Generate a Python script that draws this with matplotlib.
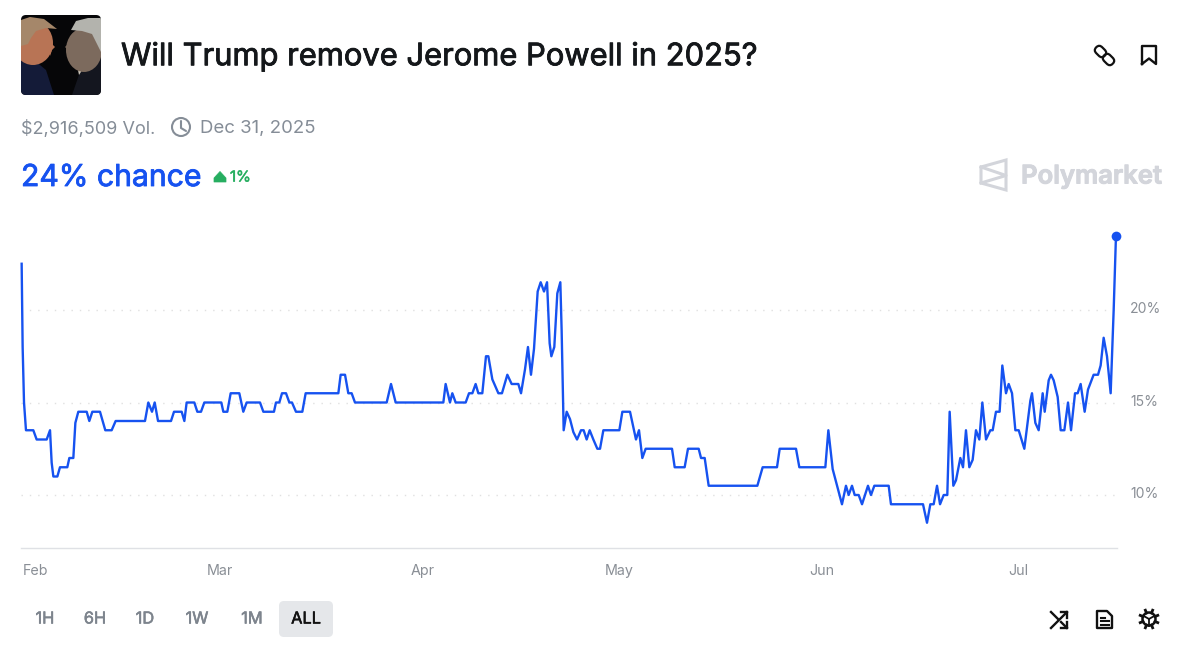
import matplotlib
matplotlib.use("Agg")
import matplotlib.pyplot as plt
import matplotlib.patheffects as pe
from matplotlib.patches import FancyBboxPatch, Polygon, Circle, Ellipse
from matplotlib.transforms import ScaledTranslation, Affine2D
import numpy as np

plt.rcParams['font.family'] = ['Inter', 'DejaVu Sans']

# Data: days since Feb 1 2025, probability in percent
days = [-2.19,-2.04,-1.83,-1.53,-0.41,0.10,1.63,2.14,2.39,2.65,3.26,3.66,4.78,5.09,5.70,6.01,6.46,7.74,8.14,8.60,9.77,10.58,11.55,12.16,16.64,17.15,17.71,18.12,18.63,20.61,21.07,22.24,22.65,23.00,24.17,24.63,25.19,25.70,28.29,28.60,29.21,29.72,31.04,31.65,32.16,34.20,34.71,36.33,36.64,37.15,37.56,38.17,38.68,39.08,39.69,40.66,41.17,46.16,46.51,47.18,47.68,48.19,48.70,53.54,54.20,54.91,
        62.19,62.54,63.20,63.56,64.07,65.60,66.11,66.62,67.12,67.53,68.14,68.70,69.06,69.67,70.59,71.14,71.96,72.62,73.64,74.05,74.66,75.11,75.57,76.03,76.59,77.05,77.56,78.02,78.42,78.68,79.13,79.59,80.05,80.25,80.56,81.02,81.53,82.04,82.60,83.21,83.61,84.07,84.53,85.09,85.70,86.11,86.62,89.06,89.52,90.69,91.60,92.06,92.57,93.08,97.10,97.51,99.03,99.54,101.17,101.53,102.09,102.70,110.13,110.94,113.13,113.54,116.03,116.54,
        120.51,120.97,121.63,123.05,123.66,124.07,124.58,124.99,125.60,126.11,127.02,127.48,127.99,130.18,130.53,135.42,136.03,136.54,137.05,137.56,138.02,138.58,139.13,139.49,140.05,140.46,141.12,141.53,141.98,142.49,143.00,143.51,144.02,144.48,145.04,145.70,146.06,146.56,147.12,147.53,148.09,148.50,149.01,149.52,150.03,150.89,151.81,152.06,152.57,153.08,153.69,154.00,154.61,154.96,155.37,155.98,156.44,157.00,157.56,158.02,158.63,159.03,159.49,160.10,160.61,161.47,162.14,162.54,163.00,163.51,164.07,164.53,164.88]
chance = [22.5,18.0,15,13.5,13.5,13,13,13.5,11.75,11,11,11.5,11.5,12,12,13.9,14.5,14.5,14,14.5,14.5,13.5,13.5,14,14,15,14.5,15,14,14,14.5,14.5,14,15,15,14.5,14.5,15,15,14.5,14.5,15.5,15.5,14.5,15,15,14.5,14.5,15,15,15.5,15.5,15,15,14.5,14.5,15.5,15.5,16.5,16.5,15.5,15.5,15,15,16,15,
          15,16,15,15.5,15,15,15.5,15.5,16,15.5,15.5,17.5,17.5,16.25,15.5,15.5,16.5,16,16,15.5,16.8,18,16.5,17.9,21,21.5,21,21.5,18.2,17.5,18,20.9,21.5,18.9,13.5,14.5,14.1,13.4,13,13.5,13.5,13,13.5,13,12.5,12.5,13.5,13.5,14.5,14.5,13,13.5,12,12.5,12.5,11.5,11.5,12.5,12.5,12,12,10.5,10.5,11.5,11.5,12.5,12.5,11.5,
          11.5,13.5,11.4,9.5,10.5,10,10.5,10,10,9.5,10.5,10,10.5,10.5,9.5,9.5,8.5,9.5,9.5,10.5,9.5,10,10,14.5,10.5,10.8,12,11.5,13.5,11.5,11.9,13.5,13,15,13,13.5,13.5,14.5,14.5,17,15.5,16,15.5,13.5,13.5,12.5,15.1,15.5,13.9,13.5,15.5,14.5,16.2,16.5,16.2,15.3,13.5,13.5,15,13.5,15.5,15.5,16,14.5,15.7,16.5,16.5,17,18.5,17.5,15.5,20,24]
month_days = [0, 28, 59, 89, 120, 150]
month_labels = ['Feb', 'Mar', 'Apr', 'May', 'Jun', 'Jul']
y_ticks = [10, 15, 20]
y_labels = ['10%', '15%', '20%']
ranges = ['1H', '6H', '1D', '1W', '1M', 'ALL']

W, H = 1192, 671
BLUE = '#1652f0'
GRAY = '#858d97'
fig = plt.figure(figsize=(W/100, H/100), dpi=100, facecolor='white')

def heavy(color, w=0.45):
    return [pe.withStroke(linewidth=w, foreground=color)]

# chart axes
L, R, T, B = 21, 1117, 225, 547.5
ax = fig.add_axes([L/W, 1-B/H, (R-L)/W, (B-T)/H])
ax.set_xlim((L-36)/6.55, (R-36)/6.55)
ax.set_ylim(10-(B-495)/18.5, 10+(495-T)/18.5)
ax.set_facecolor('none')
for s in ['top', 'left', 'right']:
    ax.spines[s].set_visible(False)
ax.spines['bottom'].set_color('#dfe1e5')
ax.spines['bottom'].set_linewidth(1)
ax.yaxis.tick_right()
ax.set_yticks(y_ticks, y_labels)
ax.set_xticks(month_days, month_labels)
ax.tick_params(axis='x', length=0, labelsize=10.3, labelcolor='#8a8f96', pad=11.8)
ax.tick_params(axis='y', length=0, labelsize=10.1, labelcolor='#8a8f96', pad=9.5)
ax.grid(axis='y', color='#e0e0e0', linewidth=1, linestyle=(0, (1, 5)))
for lab in ax.get_yticklabels():
    lab.set_transform(lab.get_transform() + ScaledTranslation(0, 0.025, fig.dpi_scale_trans))
ax.plot(days, chance, color=BLUE, linewidth=1.7, solid_joinstyle='round', clip_on=False, zorder=3)
ax.plot(days[-1], chance[-1], 'o', color=BLUE, markersize=7, markeredgewidth=0, clip_on=False, zorder=4)

# page chrome in pixel coordinates
ov = fig.add_axes([0, 0, 1, 1], zorder=5)
ov.set_xlim(0, W); ov.set_ylim(H, 0); ov.axis('off'); ov.patch.set_alpha(0)

# thumbnail
clip = FancyBboxPatch((21, 15), 80, 80, boxstyle='round,pad=0,rounding_size=5', fc='#060608', ec='none')
ov.add_patch(clip)
shapes = [
    (Polygon([(21,50),(34,60),(46,70),(54,95),(21,95)], closed=True), '#141b38'),
    (Polygon([(21,50),(30,58),(38,62),(31,56)], closed=True), '#d8d4cc'),
    (Ellipse((33,43), 40, 44), '#b87455'),
    (Polygon([(50,42),(55,47),(52,50),(50,56)], closed=True), '#b87455'),
    (Polygon([(21,20),(30,17),(44,19),(57,29),(46,28),(36,31),(31,38),(28,44),(21,46)], closed=True), '#a5876a'),
    (Polygon([(101,58),(90,60),(80,72),(72,95),(101,95)], closed=True), '#14161f'),
    (Polygon([(100,57),(88,61),(79,75),(78,70),(90,58)], closed=True), '#cfc9bd'),
    (Ellipse((84,50), 36, 44), '#7c6a5d'),
    (Polygon([(72,40),(65,47),(68,50),(72,55)], closed=True), '#7c6a5d'),
    (Polygon([(71,30),(76,21),(88,18),(101,18),(101,52),(97,44),(92,34),(82,31)], closed=True), '#b3b3ad'),
]
for p, c in shapes:
    p.set_facecolor(c); p.set_edgecolor('none'); ov.add_patch(p); p.set_clip_path(clip)

ov.text(121, 57, 'Will Trump remove Jerome Powell in 2025?', fontsize=22.25, color='#14171a', va='center', ha='left',
        path_effects=heavy('#14171a', 0.6))
ov.text(21, 129, '$2,916,509 Vol.', fontsize=13, color=GRAY, va='center', ha='left')
ov.add_patch(Circle((181, 127), 9, fc='none', ec=GRAY, lw=1.5))
ov.plot([181, 181, 186], [121, 128, 131], color=GRAY, lw=1.5, solid_capstyle='round')
ov.text(200, 129, 'Dec 31, 2025', fontsize=13.4, color=GRAY, va='center', ha='left')
ov.text(21, 178, '24% chance', fontsize=21.7, color=BLUE, va='center', ha='left', path_effects=heavy(BLUE, 0.6))
GREEN = '#27ae60'
ov.add_patch(Polygon([(214, 182), (214, 178), (220, 171.5), (226, 178), (226, 182)], closed=True, fc=GREEN, ec=GREEN, lw=.5, joinstyle='round'))
ov.text(230, 177.5, '1%', fontsize=10.8, color=GREEN, va='center', ha='left', path_effects=heavy(GREEN, 0.4))

# logo
LG = '#d3d5db'
ov.add_patch(Polygon([(981, 167), (1006, 160), (1006, 190), (981, 183)], closed=True, fc='none', ec=LG, lw=2.2))
ov.plot([981, 1006, 981], [167, 175.5, 183], color=LG, lw=2.2)
ov.text(1021, 177, 'Polymarket', fontsize=18.5, fontweight='semibold', color=LG, va='center', ha='left', path_effects=heavy(LG, 0.7))

# link + bookmark icons
for cx, cy in [(1100.5, 51.5), (1108.5, 59.5)]:
    ov.add_patch(FancyBboxPatch((cx-6, cy-4.2), 12, 8.4, boxstyle='round,pad=0,rounding_size=4.2', fc='none', ec='#111', lw=1.6,
                                transform=Affine2D().rotate_deg_around(cx, cy, 45)+ov.transData))
ov.plot([1142, 1142, 1156, 1156, 1149, 1142], [64, 46, 46, 64, 58.5, 64], color='#111', lw=1.7, solid_joinstyle='round')

# range buttons
ov.add_patch(FancyBboxPatch((279, 601), 54, 36, boxstyle='round,pad=0,rounding_size=5', fc='#e5e7ea', ec='none'))
for lab, xc in zip(ranges, [45, 95, 145, 197, 252, 306]):
    col = '#111' if lab == 'ALL' else '#7d848d'
    ov.text(xc, 619, lab, fontsize=11.8, color=col, va='center', ha='center', path_effects=heavy(col, 0.4))

# bottom-right icons
K = '#111'
ov.plot([1051, 1058], [612, 619], color=K, lw=1.7)
ov.plot([1051, 1067], [628, 612], color=K, lw=1.7)
ov.plot([1061, 1067], [622, 628], color=K, lw=1.7)
ov.plot([1061, 1067, 1067], [612, 612, 618], color=K, lw=1.7)
ov.plot([1061, 1067, 1067], [628, 628, 622], color=K, lw=1.7)
ov.add_patch(Polygon([(1097, 611), (1107, 611), (1112, 616), (1112, 628), (1097, 628)], closed=True, fc='none', ec=K, lw=1.7, joinstyle='round'))
ov.plot([1100.5, 1105], [618, 618], color=K, lw=1.5)
ov.plot([1100.5, 1108.5], [621, 621], color=K, lw=1.5)
ov.plot([1100.5, 1108.5], [624.5, 624.5], color=K, lw=1.5)
ov.add_patch(Circle((1149, 619), 6.5, fc='none', ec=K, lw=1.8))
for a in np.arange(0, 360, 45):
    r = np.deg2rad(a + 22.5)
    ov.plot([1149+6.5*np.cos(r), 1149+9.5*np.cos(r)], [619+6.5*np.sin(r), 619+9.5*np.sin(r)], color=K, lw=2)
for a in [90, 210, 330]:
    r = np.deg2rad(a)
    ov.plot([1149, 1149+6.5*np.cos(r)], [619, 619+6.5*np.sin(r)], color=K, lw=1.3)

fig.savefig('out.png', dpi=100)
